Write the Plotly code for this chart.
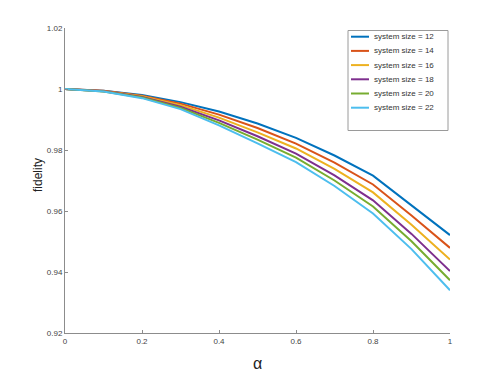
import plotly.graph_objects as go

# alpha values and fidelity per system size
alpha = [0, 0.1, 0.2, 0.3, 0.4, 0.5, 0.6, 0.7, 0.8, 0.9, 1.0]
sizes = [12, 14, 16, 18, 20, 22]
fid_12 = [1, 0.9994, 0.9980, 0.9957, 0.9926, 0.9887, 0.9840, 0.9782, 0.9716, 0.9618, 0.9521]
fid_14 = [1, 0.9994, 0.9978, 0.9952, 0.9916, 0.9872, 0.9821, 0.9759, 0.9687, 0.9585, 0.9479]
fid_16 = [1, 0.9993, 0.9976, 0.9947, 0.9906, 0.9858, 0.9805, 0.9738, 0.9661, 0.9555, 0.9441]
fid_18 = [1, 0.9993, 0.9974, 0.9942, 0.9897, 0.9845, 0.9788, 0.9717, 0.9635, 0.9525, 0.9403]
fid_20 = [1, 0.9992, 0.9972, 0.9938, 0.9889, 0.9834, 0.9775, 0.9700, 0.9615, 0.9501, 0.9373]
fid_22 = [1, 0.9992, 0.9970, 0.9934, 0.9881, 0.9822, 0.9760, 0.9682, 0.9592, 0.9475, 0.9340]

# matlab default line colours
colors = ["#0072BD", "#D95319", "#EDB120", "#7E2F8E", "#77AC30", "#4DBEEE"]

fig = go.Figure()
for n, ys, c in zip(sizes, [fid_12, fid_14, fid_16, fid_18, fid_20, fid_22], colors):
    fig.add_trace(go.Scatter(
        x=alpha, y=ys, mode="lines",
        line=dict(color=c, width=2),
        name=f"system size = {n}",
        showlegend=False,
    ))

# plotly's legend rows are too tall here, so build a compact one by hand
# (plot area is 385 x 305 px, positions below are in pixels from its corner)
W, H = 385.0, 305.0
shapes = [dict(type="rect", xref="paper", yref="paper",
               x0=283 / W, x1=383 / W, y0=1 - 102.5 / H, y1=1 - 2.5 / H,
               line=dict(color="#9a9a9a", width=1), fillcolor="white", layer="above")]
annotations = []
for i, (n, c) in enumerate(zip(sizes, colors)):
    yy = 1 - (8.7 + i * 14.2) / H
    shapes.append(dict(type="line", xref="paper", yref="paper",
                       x0=286 / W, x1=304 / W, y0=yy, y1=yy,
                       line=dict(color=c, width=2), layer="above"))
    annotations.append(dict(xref="paper", yref="paper", x=306.5 / W, y=yy,
                            xanchor="left", yanchor="middle", showarrow=False,
                            text=f"system size = {n}",
                            font=dict(size=8, color="#333333")))

# axis titles as annotations so they don't push the margins around
annotations.append(dict(xref="paper", yref="paper", x=0.5, y=-30 / H,
                        xanchor="center", yanchor="middle", showarrow=False,
                        text="α", font=dict(size=16, color="#222222")))
annotations.append(dict(xref="paper", yref="paper", x=-27 / W, y=0.518,
                        xanchor="center", yanchor="middle", showarrow=False,
                        textangle=-90, text="fidelity",
                        font=dict(size=12, color="#222222")))

axis_style = dict(
    showline=True, linecolor="#8c8c8c", linewidth=1,
    ticks="inside", ticklen=3, tickcolor="#8c8c8c",
    showgrid=False, zeroline=False, mirror=False, automargin=False,
    tickfont=dict(size=8, color="#444444"),
)

fig.update_layout(
    width=490, height=366,
    margin=dict(l=57, r=48, t=20, b=41),
    plot_bgcolor="white", paper_bgcolor="white",
    font=dict(family="Liberation Sans, Arial, sans-serif", color="#333333"),
    xaxis=dict(range=[0, 1], dtick=0.2, **axis_style),
    yaxis=dict(range=[0.92, 1.02], dtick=0.02, **axis_style),
    shapes=shapes,
    annotations=annotations,
)

fig.write_html("out.html")
